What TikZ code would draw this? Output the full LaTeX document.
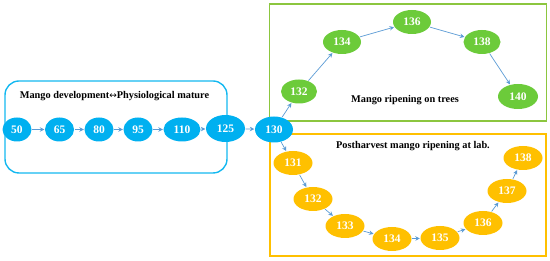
\documentclass[tikz,border=0pt]{standalone}
\usepackage{fontspec}
\setmainfont{Liberation Serif}
\newfontfamily\arrowfont{DejaVu Sans}
\usetikzlibrary{shapes.geometric,arrows.meta}
\definecolor{nblue}{RGB}{0,176,240}
\definecolor{bblue}{RGB}{20,184,240}
\definecolor{ngreen}{RGB}{108,203,58}
\definecolor{bgreen}{RGB}{140,198,63}
\definecolor{norange}{RGB}{255,192,0}
\definecolor{arr}{RGB}{91,155,213}
\tikzset{
  stage/.style={ellipse, inner sep=0pt, minimum height=24pt, text=white,
    font=\fontsize{11.5}{12}\selectfont\bfseries},
  bstage/.style={stage, fill=nblue, minimum width=29pt},
  gstage/.style={stage, fill=ngreen, minimum width=38pt},
  ostage/.style={stage, fill=norange, minimum width=39pt},
  con/.style={draw=arr, line width=0.7pt, -{Stealth[length=4.5pt,width=4.5pt,inset=1.5pt]}, shorten >=0.5pt, shorten <=0.5pt},
  ttl/.style={font=\fontsize{10.3}{12}\selectfont\bfseries, text=black, inner sep=0pt},
}
\begin{document}
\begin{tikzpicture}[x=1pt,y=-1pt]
\useasboundingbox (0,0) rectangle (550,261);
% frames
\node[draw=bblue, line width=1.4pt, rounded corners=14pt, minimum width=222pt, minimum height=92pt, inner sep=0pt] (fblue) at (116,127) {};
\node[draw=bgreen, line width=1.3pt, minimum width=277pt, minimum height=117pt, inner sep=0pt] (fgreen) at (408,62.5) {};
\node[draw=norange, line width=1.3pt, minimum width=276pt, minimum height=122pt, inner sep=0pt] (forange) at (408,195) {};
% titles
\node[ttl] (tblue) at (114.5,96) {Mango development{\arrowfont\fontsize{9}{10}\selectfont\mdseries ↔}Physiological mature};
\node[ttl] (tgreen) at (405,100) {Mango ripening on trees};
\node[ttl] (torange) at (413,146) {Postharvest mango ripening at lab.};
% blue stages
\node[bstage] (b50) at (17,129.5) {50};
\node[bstage] (b65) at (59.5,129.5) {65};
\node[bstage] (b80) at (99,129.5) {80};
\node[bstage] (b95) at (138,129.5) {95};
\node[bstage, minimum width=37pt] (b110) at (182,129.5) {110};
\node[bstage, minimum width=39pt, minimum height=27pt] (b125) at (225.5,128.5) {125};
\node[bstage, minimum width=38pt, minimum height=26pt] (b130) at (274,129.5) {130};
% green stages
\node[gstage, minimum width=36pt] (g132) at (299,91.5) {132};
\node[gstage] (g134) at (342,42) {134};
\node[gstage] (g136) at (412,22) {136};
\node[gstage, minimum width=37pt] (g138) at (482,42) {138};
\node[gstage, minimum width=40pt, minimum height=25pt] (g140) at (518,96.5) {140};
% orange stages
\node[ostage] (o131) at (293,163) {131};
\node[ostage] (o132) at (313,199) {132};
\node[ostage] (o133) at (345,226) {133};
\node[ostage] (o134) at (392,239) {134};
\node[ostage] (o135) at (440,238) {135};
\node[ostage] (o136) at (483,223) {136};
\node[ostage] (o137) at (507,191) {137};
\node[ostage] (o138) at (523,158) {138};
% connectors
\draw[con] (b50) -- (b65);
\draw[con] (b65) -- (b80);
\draw[con] (b80) -- (b95);
\draw[con] (b95) -- (b110);
\draw[con] (b110) -- (b125);
\draw[con] (b125) -- (b130);
\draw[con] (b130) -- (g132);
\draw[con] (g132) -- (g134);
\draw[con] (g134) -- (g136);
\draw[con] (g136) -- (g138);
\draw[con] (g138) -- (g140);
\draw[con] (b130) -- (o131);
\draw[con] (o131) -- (o132);
\draw[con] (o132) -- (o133);
\draw[con] (o133) -- (o134);
\draw[con] (o134) -- (o135);
\draw[con] (o135) -- (o136);
\draw[con] (o136) -- (o137);
\draw[con] (o137) -- (o138);
\end{tikzpicture}
\end{document}
